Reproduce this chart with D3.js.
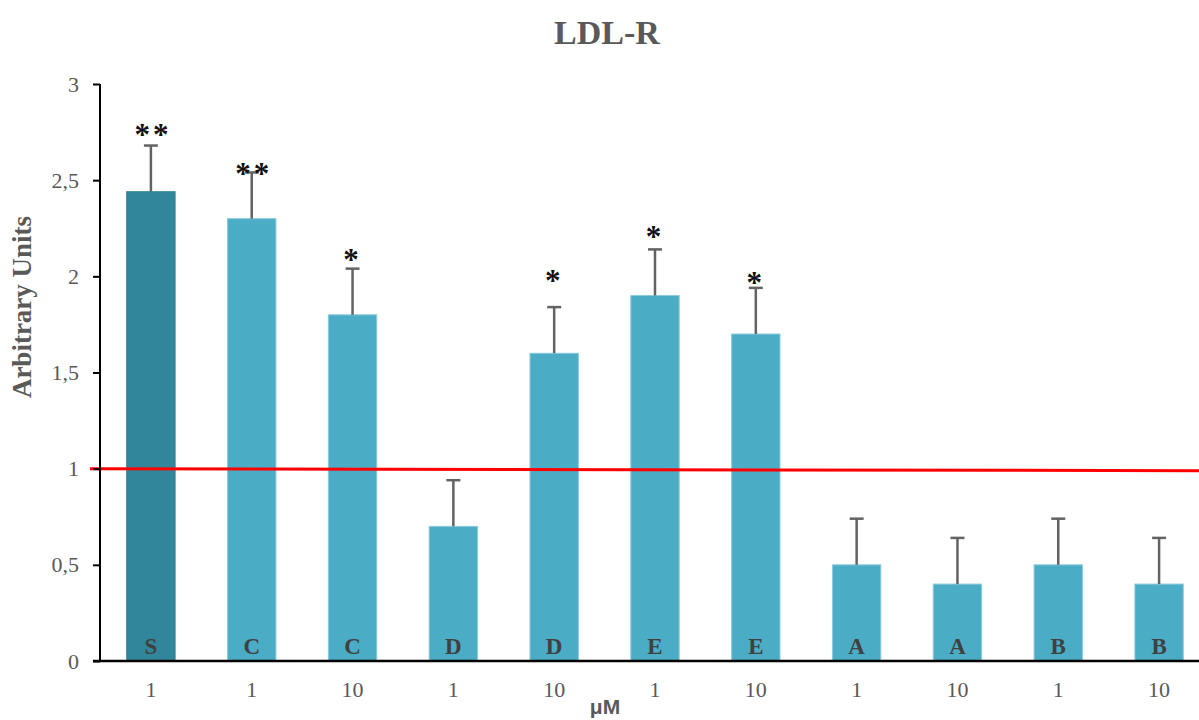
<!DOCTYPE html>
<html>
<head>
<meta charset="utf-8">
<script src="https://cdn.jsdelivr.net/npm/d3@7"></script>
<style>
  html, body { margin: 0; padding: 0; background: #fff; }
  svg { display: block; }
</style>
</head>
<body>
<div id="chart"></div>
<script>
// LDL-R expression per compound and concentration
const groups = ["S", "C", "C", "D", "D", "E", "E", "A", "A", "B", "B"];
const doses = ["1", "1", "10", "1", "10", "1", "10", "1", "10", "1", "10"];
const values = [2.44, 2.30, 1.80, 0.70, 1.60, 1.90, 1.70, 0.50, 0.40, 0.50, 0.40];
const errors = [0.24, 0.24, 0.24, 0.24, 0.24, 0.24, 0.24, 0.24, 0.24, 0.24, 0.24];
const stars = ["**", "**", "*", "", "*", "*", "*", "", "", "", ""];
const starLevels = [2.77, 2.57, 2.12, null, 2.01, 2.24, 2.00, null, null, null, null];
const yTicks = [0, 0.5, 1, 1.5, 2, 2.5, 3];
const yTickLabels = ["0", "0,5", "1", "1,5", "2", "2,5", "3"];
const baseline = 1;

const W = 1199, H = 720;
const serif = "'Liberation Serif', 'DejaVu Serif', serif";
const sans = "'Liberation Sans', Arial, sans-serif";

const svg = d3.select("#chart").append("svg")
  .attr("width", W).attr("height", H);

const x = d3.scaleBand()
  .domain(d3.range(values.length))
  .range([100.5, 1209.5])
  .paddingInner(0.52)
  .paddingOuter(0.26);

const y = d3.scaleLinear().domain([0, 3]).range([661, 84]);

// Title
svg.append("text")
  .attr("x", 607).attr("y", 44)
  .attr("text-anchor", "middle")
  .attr("font-family", serif).attr("font-weight", "bold")
  .attr("font-size", 34).attr("fill", "#595959")
  .text("LDL-R");

// Y axis title
svg.append("text")
  .attr("transform", "translate(31,307) rotate(-90)")
  .attr("text-anchor", "middle")
  .attr("font-family", serif).attr("font-weight", "bold")
  .attr("font-size", 27).attr("fill", "#595959")
  .text("Arbitrary Units");

// Bars
svg.append("g").selectAll("rect")
  .data(values)
  .join("rect")
  .attr("x", (d, i) => x(i))
  .attr("y", d => y(d))
  .attr("width", x.bandwidth())
  .attr("height", d => y(0) - y(d))
  .attr("fill", (d, i) => i === 0 ? "#31869B" : "#4BACC6")
  .attr("stroke", (d, i) => i === 0 ? "#31869B" : "#8ccbdc")
  .attr("stroke-width", 1);

// Error bars (upper only, with cap)
const eg = svg.append("g").attr("stroke", "#636363").attr("stroke-width", 2.5);
values.forEach((v, i) => {
  const cx = x(i) + x.bandwidth() / 2;
  eg.append("line")
    .attr("x1", cx).attr("x2", cx)
    .attr("y1", y(v)).attr("y2", y(v + errors[i]));
  eg.append("line")
    .attr("x1", cx - 7).attr("x2", cx + 7)
    .attr("y1", y(v + errors[i])).attr("y2", y(v + errors[i]));
});

// Group letters inside bars
svg.append("g").selectAll("text")
  .data(groups)
  .join("text")
  .attr("x", (d, i) => x(i) + x.bandwidth() / 2)
  .attr("y", 654)
  .attr("text-anchor", "middle")
  .attr("font-family", serif).attr("font-weight", "bold")
  .attr("font-size", 23).attr("fill", "#404040")
  .text(d => d);

// Significance marks
svg.append("g").selectAll("text")
  .data(stars.map((s, i) => ({ s, i })).filter(d => d.s))
  .join("text")
  .attr("x", d => x(d.i) + x.bandwidth() / 2 + (d.s.length > 1 ? 2 : 0))
  .attr("y", d => y(starLevels[d.i]) + 17)
  .attr("text-anchor", "middle")
  .attr("font-family", serif).attr("font-weight", "bold")
  .attr("font-size", 31).attr("fill", "#111")
  .attr("letter-spacing", 3)
  .text(d => d.s);

// Reference line at 1
svg.append("line")
  .attr("x1", 90).attr("x2", W)
  .attr("y1", y(baseline)).attr("y2", y(baseline) + 2)
  .attr("stroke", "#ff0000").attr("stroke-width", 3);

// Y axis
const yAxis = svg.append("g")
  .attr("transform", "translate(100,0)")
  .call(d3.axisLeft(y).tickValues(yTicks)
    .tickFormat((d, i) => yTickLabels[i]).tickSize(7).tickPadding(14));
yAxis.select(".domain").attr("stroke", "#000").attr("stroke-width", 2)
  .attr("d", `M0,${y(0)}V${y(3)}`);
yAxis.selectAll(".tick line").attr("stroke", "#000").attr("stroke-width", 2);
yAxis.selectAll(".tick text")
  .attr("font-family", serif).attr("font-size", 22).attr("fill", "#595959");

// X axis
const xAxis = svg.append("g")
  .attr("transform", `translate(0,${y(0)})`)
  .call(d3.axisBottom(x).tickFormat((d, i) => doses[i]).tickSize(0).tickPadding(20));
xAxis.select(".domain").attr("stroke", "#000").attr("stroke-width", 2.5)
  .attr("d", `M93,0H${W}`);
xAxis.selectAll(".tick text")
  .attr("font-family", serif).attr("font-size", 22).attr("fill", "#595959");

// Unit label
svg.append("text")
  .attr("x", 605).attr("y", 714)
  .attr("text-anchor", "middle")
  .attr("font-family", sans).attr("font-weight", "bold")
  .attr("font-size", 21).attr("fill", "#595959")
  .text("μM");
</script>
</body>
</html>
